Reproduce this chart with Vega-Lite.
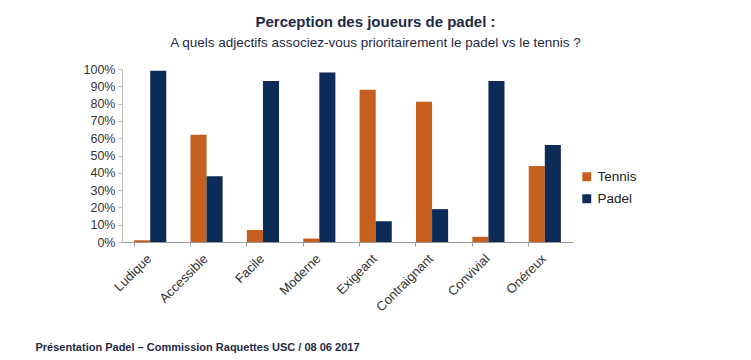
{
  "$schema": "https://vega.github.io/schema/vega-lite/v6.json",
  "width": 451,
  "height": 173,
  "autosize": "none",
  "padding": {"left": 122, "top": 69, "right": 178, "bottom": 118},
  "background": "white",
  "config": {"font": "Liberation Sans", "view": {"stroke": null}},
  "title": {
    "text": "Perception des joueurs de padel :",
    "subtitle": "A quels adjectifs associez-vous prioritairement le padel vs le tennis ?",
    "anchor": "middle",
    "frame": "group",
    "dx": 28,
    "offset": 14,
    "fontSize": 15,
    "fontWeight": "bold",
    "color": "#1F2A44",
    "subtitleFontSize": 13.5,
    "subtitleColor": "#1F2A44",
    "subtitlePadding": 6
  },
  "data": {
    "values": [
      {"adj": "Ludique", "sport": "Tennis", "v": 0.01},
      {"adj": "Ludique", "sport": "Padel", "v": 0.99},
      {"adj": "Accessible", "sport": "Tennis", "v": 0.62},
      {"adj": "Accessible", "sport": "Padel", "v": 0.38},
      {"adj": "Facile", "sport": "Tennis", "v": 0.07},
      {"adj": "Facile", "sport": "Padel", "v": 0.93},
      {"adj": "Moderne", "sport": "Tennis", "v": 0.02},
      {"adj": "Moderne", "sport": "Padel", "v": 0.98},
      {"adj": "Exigeant", "sport": "Tennis", "v": 0.88},
      {"adj": "Exigeant", "sport": "Padel", "v": 0.12},
      {"adj": "Contraignant", "sport": "Tennis", "v": 0.81},
      {"adj": "Contraignant", "sport": "Padel", "v": 0.19},
      {"adj": "Convivial", "sport": "Tennis", "v": 0.03},
      {"adj": "Convivial", "sport": "Padel", "v": 0.93},
      {"adj": "Onéreux", "sport": "Tennis", "v": 0.44},
      {"adj": "Onéreux", "sport": "Padel", "v": 0.56}
    ]
  },
  "mark": {"type": "bar"},
  "encoding": {
    "x": {
      "field": "adj",
      "type": "nominal",
      "sort": null,
      "scale": {"paddingInner": 0.43, "paddingOuter": 0.215},
      "axis": {
        "title": "Présentation Padel – Commission Raquettes USC / 08 06 2017",
        "titleX": -87,
        "titleY": 108,
        "titleAnchor": "start",
        "titleAlign": "left",
        "titleBaseline": "alphabetic",
        "titleFontSize": 11,
        "titleFontWeight": "bold",
        "titleColor": "#1F2A44",
        "labelAngle": -45,
        "labelAlign": "right",
        "labelBaseline": "top",
        "labelFontSize": 13,
        "labelColor": "#333333",
        "labelPadding": 6,
        "labelOffset": -5,
        "bandPosition": 0,
        "domainColor": "#999999",
        "tickColor": "#999999",
        "tickSize": 4
      }
    },
    "xOffset": {"field": "sport", "type": "nominal", "sort": ["Tennis", "Padel"]},
    "y": {
      "field": "v",
      "type": "quantitative",
      "scale": {"domain": [0, 1]},
      "axis": {
        "title": null,
        "format": ".0%",
        "values": [0, 0.1, 0.2, 0.3, 0.4, 0.5, 0.6, 0.7, 0.8, 0.9, 1],
        "grid": false,
        "labelFontSize": 12.5,
        "labelColor": "#333333",
        "domainColor": "#BBBBBB",
        "tickColor": "#BBBBBB",
        "tickSize": 4,
        "labelPadding": 3
      }
    },
    "color": {
      "field": "sport",
      "type": "nominal",
      "sort": ["Tennis", "Padel"],
      "scale": {"domain": ["Tennis", "Padel"], "range": ["#C75F1F", "#0C2B56"]},
      "legend": {
        "title": null,
        "orient": "none",
        "legendX": 458,
        "legendY": 101,
        "symbolType": "square",
        "symbolSize": 80,
        "labelFontSize": 13.5,
        "labelColor": "#222222",
        "rowPadding": 7
      }
    }
  }
}
